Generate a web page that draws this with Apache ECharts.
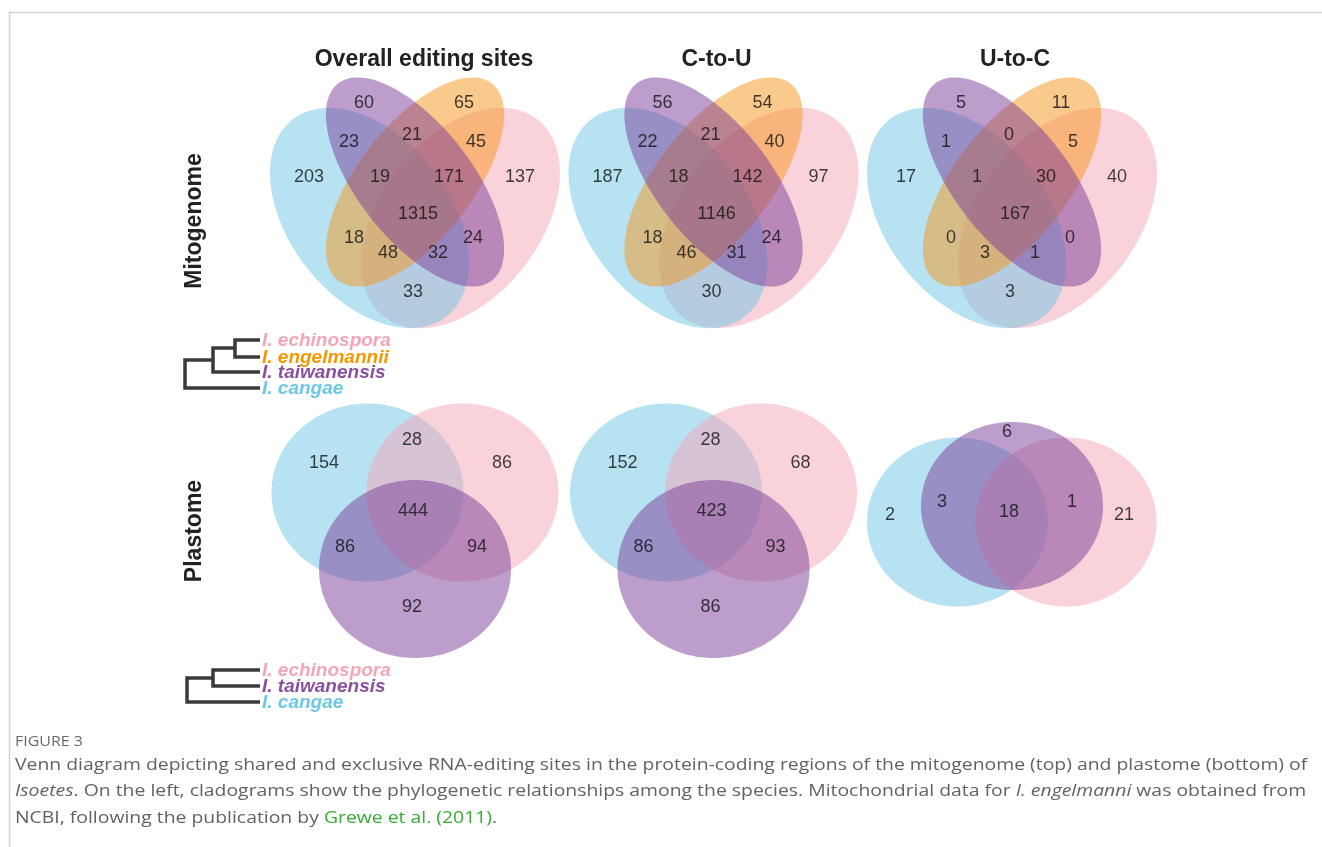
<!DOCTYPE html>
<html>
<head>
<meta charset="utf-8">
<script src="https://cdn.jsdelivr.net/npm/echarts@6/dist/echarts.min.js"></script>
<style>
html, body { margin: 0; padding: 0; background: #fff; }
#chart { width: 1322px; height: 847px; }
</style>
</head>
<body>
<div id="chart"></div>
<script>
// region keys: C = I. cangae, T = I. taiwanensis, E = I. engelmannii, P = I. echinospora
var quadRegions = ['T', 'E', 'CT', 'TE', 'EP', 'C', 'CTE', 'TEP', 'P', 'CTEP', 'CE', 'TP', 'CEP', 'CTP', 'CP'];
var mitoOverall = [60, 65, 23, 21, 45, 203, 19, 171, 137, 1315, 18, 24, 48, 32, 33];
var mitoCtoU = [56, 54, 22, 21, 40, 187, 18, 142, 97, 1146, 18, 24, 46, 31, 30];
var mitoUtoC = [5, 11, 1, 0, 5, 17, 1, 30, 40, 167, 0, 0, 3, 1, 3];

var triRegions = ['C', 'CP', 'P', 'CTP', 'CT', 'TP', 'T'];
var plastOverall = [154, 28, 86, 444, 86, 94, 92];
var plastCtoU = [152, 28, 68, 423, 86, 93, 86];
var triRegionsU = ['T', 'C', 'CT', 'CTP', 'TP', 'P'];
var plastUtoC = [6, 2, 3, 18, 1, 21];

var panelTitles = ['Overall editing sites', 'C-to-U', 'U-to-C'];
var rowTitles = ['Mitogenome', 'Plastome'];
var mitoSpecies = ['I. echinospora', 'I. engelmannii', 'I. taiwanensis', 'I. cangae'];
var mitoSpeciesSet = ['P', 'E', 'T', 'C'];
var plastSpecies = ['I. echinospora', 'I. taiwanensis', 'I. cangae'];
var plastSpeciesSet = ['P', 'T', 'C'];

// layout
var colX = [415, 713.5, 1012];
var mitoY = 182;
var plastY = 492.5;
var fills = {
  C: 'rgba(112,198,230,0.5)',
  P: 'rgba(246,166,182,0.5)',
  T: 'rgba(122,60,152,0.5)',
  E: 'rgba(245,150,28,0.5)'
};
var inks = { C: '#6cc8e6', P: '#f4a6b9', T: '#8b4f9f', E: '#f39800' };
var quadOrder = ['P', 'C', 'E', 'T'];
var triOrder = ['C', 'P', 'T'];
// dx, dy, semi-major, semi-minor, angle (deg, screen)
var quadShapes = {
  C: [-45.5, 36, 125, 80, 52],
  P: [45.5, 36, 125, 80, 128],
  T: [0, 0, 125, 57, 52],
  E: [0, 0, 125, 57, 128]
};
var quadLabelPos = {
  T: [-51, -79], E: [49, -79], CT: [-66, -40], TE: [-3, -47], EP: [61, -40],
  C: [-106, -5], CTE: [-35, -5], TEP: [34, -5], P: [105, -5], CTEP: [3, 32],
  CE: [-61, 56], TP: [58, 56], CEP: [-27, 71], CTP: [23, 71], CP: [-2, 110]
};
var triShapes = {
  C: [-47.5, 0, 96, 89, 0],
  P: [47.5, 0, 96, 89, 0],
  T: [0, 76.5, 96, 89, 0]
};
var triLabelPos = {
  C: [-91, -29], CP: [-3, -52], P: [87, -29], CTP: [-2, 19],
  CT: [-70, 55], TP: [62, 55], T: [-3, 115]
};
var triShapesU = {
  C: [-54.5, 29.5, 90.5, 84.5, 0],
  P: [54, 29.5, 90.5, 84.5, 0],
  T: [0, 13.5, 91, 84, 0]
};
var triLabelPosU = {
  T: [-5, -60], C: [-122, 23], CT: [-70, 10], CTP: [-3, 20], TP: [60, 10], P: [112, 23]
};

var shapeData = [];
var labelData = [];

function addPanel(cx, cy, shapes, order, regions, values, pos) {
  order.forEach(function (k) {
    var s = shapes[k];
    shapeData.push({ value: [cx + s[0], cy + s[1], s[2], s[3], s[4]], itemStyle: { color: fills[k] } });
  });
  regions.forEach(function (r, i) {
    labelData.push([cx + pos[r][0], cy + pos[r][1], values[i]]);
  });
}

addPanel(colX[0], mitoY, quadShapes, quadOrder, quadRegions, mitoOverall, quadLabelPos);
addPanel(colX[1], mitoY, quadShapes, quadOrder, quadRegions, mitoCtoU, quadLabelPos);
addPanel(colX[2], mitoY, quadShapes, quadOrder, quadRegions, mitoUtoC, quadLabelPos);
addPanel(colX[0], plastY, triShapes, triOrder, triRegions, plastOverall, triLabelPos);
addPanel(colX[1], plastY, triShapes, triOrder, triRegions, plastCtoU, triLabelPos);
addPanel(colX[2], plastY, triShapesU, triOrder, triRegionsU, plastUtoC, triLabelPosU);

function renderEllipse(params, api) {
  var cx = api.value(0), cy = api.value(1), a = api.value(2), b = api.value(3);
  var th = api.value(4) * Math.PI / 180;
  var pts = [];
  for (var i = 0; i < 200; i++) {
    var t = i / 200 * 2 * Math.PI;
    var ex = a * Math.cos(t), ey = b * Math.sin(t);
    pts.push(api.coord([cx + ex * Math.cos(th) - ey * Math.sin(th), cy + ex * Math.sin(th) + ey * Math.cos(th)]));
  }
  return { type: 'polygon', shape: { points: pts }, style: { fill: api.visual('color') } };
}

var SANS = 'Liberation Sans, Arial, sans-serif';
var CAP = 'Open Sans, Noto Sans, sans-serif';
var graphics = [];

function label(x, y, text, st, extra) {
  var el = {
    type: 'text', x: x, y: y,
    style: Object.assign({ text: text, align: 'center', verticalAlign: 'middle', textAlign: 'center', textVerticalAlign: 'middle' }, st)
  };
  return Object.assign(el, extra || {});
}

// frame
graphics.push({ type: 'polyline', shape: { points: [[9.5, 847], [9.5, 12.5], [1322, 12.5]] }, style: { stroke: '#d4d4d4', lineWidth: 1.5, fill: null } });

panelTitles.forEach(function (t, i) {
  graphics.push(label(colX[i] + (i === 0 ? 9 : 3), 60, t,
    { fontFamily: SANS, fontWeight: 'bold', fontSize: 23, fill: '#222' }));
});
[221, 531].forEach(function (y, i) {
  graphics.push(label(195, y, rowTitles[i],
    { fontFamily: SANS, fontWeight: 'bold', fontSize: 23, fill: '#222' }, { rotation: Math.PI / 2 }));
});

// cladograms
var treeStyle = { stroke: '#3a3a3a', lineWidth: 3.5, fill: null };
[
  [[260, 340], [235, 340], [235, 357], [260, 357]],
  [[235, 348], [213, 348], [213, 372], [260, 372]],
  [[213, 360], [185, 360], [185, 388], [260, 388]],
  [[260, 670], [213, 670], [213, 686], [260, 686]],
  [[213, 678], [187, 678], [187, 702], [260, 702]]
].forEach(function (p) {
  graphics.push({ type: 'polyline', shape: { points: p }, style: treeStyle });
});
var speciesStyle = { fontFamily: SANS, fontWeight: 'bold', fontStyle: 'italic', fontSize: 19, align: 'left', textAlign: 'left' };
var mitoTipY = [340, 357, 372, 388];
mitoSpecies.forEach(function (s, i) {
  graphics.push(label(262, mitoTipY[i] + 1, s, Object.assign({ fill: inks[mitoSpeciesSet[i]] }, speciesStyle)));
});
var plastTipY = [670, 686, 702];
plastSpecies.forEach(function (s, i) {
  graphics.push(label(262, plastTipY[i] + 1, s, Object.assign({ fill: inks[plastSpeciesSet[i]] }, speciesStyle)));
});

// caption
var capRich = {
  n: { fontFamily: CAP, fontSize: 17, fill: '#626262' },
  i: { fontFamily: CAP, fontSize: 17, fill: '#626262', fontStyle: 'italic' },
  g: { fontFamily: CAP, fontSize: 17, fill: '#3aaa35' }
};
graphics.push(label(15, 742, 'FIGURE 3',
  { fontFamily: CAP, fontSize: 14, fill: '#6a6a6a', align: 'left', textAlign: 'left' }, { scaleX: 1.14 }));
[
  '{n|Venn diagram depicting shared and exclusive RNA-editing sites in the protein-coding regions of the mitogenome (top) and plastome (bottom) of}',
  '{i|Isoetes}{n|. On the left, cladograms show the phylogenetic relationships among the species. Mitochondrial data for }{i|I. engelmanni}{n| was obtained from}',
  '{n|NCBI, following the publication by }{g|Grewe et al. (2011)}{n|.}'
].forEach(function (line, i) {
  graphics.push(label(15, 765 + i * 26.5, line,
    { rich: capRich, align: 'left', textAlign: 'left' }, { scaleX: 1.14 }));
});

var chart = echarts.init(document.getElementById('chart'));
chart.setOption({
  animation: false,
  backgroundColor: '#fff',
  grid: { left: 0, right: 0, top: 0, bottom: 0 },
  xAxis: { type: 'value', min: 0, max: 1322, show: false },
  yAxis: { type: 'value', min: 0, max: 847, inverse: true, show: false },
  series: [
    {
      type: 'custom',
      renderItem: renderEllipse,
      encode: { x: 0, y: 1 },
      data: shapeData,
      silent: true,
      z: 1
    },
    {
      type: 'scatter',
      symbolSize: 0,
      data: labelData,
      silent: true,
      z: 2,
      label: {
        show: true,
        position: 'inside',
        formatter: function (p) { return String(p.value[2]); },
        fontFamily: SANS,
        fontSize: 18,
        color: '#111'
      }
    }
  ],
  graphic: graphics
});
</script>
</body>
</html>
